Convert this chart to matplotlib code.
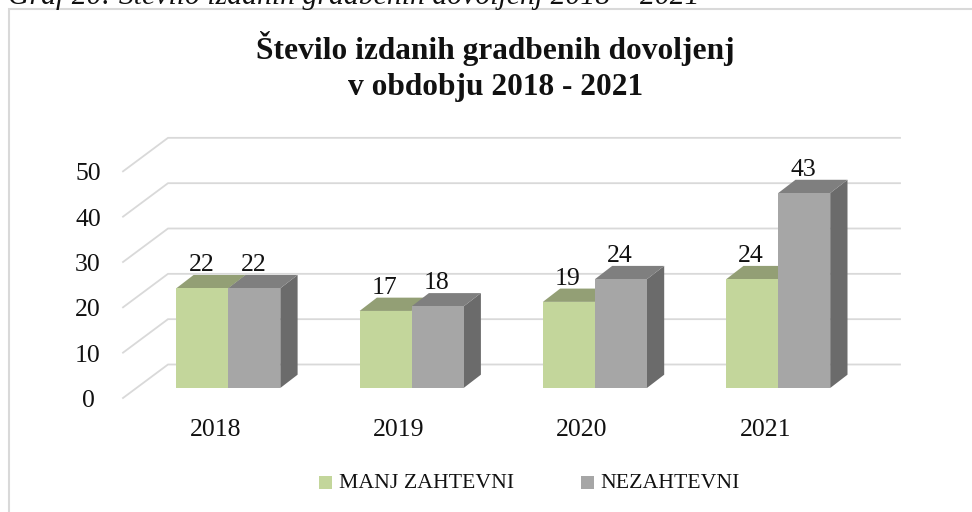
import matplotlib
matplotlib.use("Agg")
import matplotlib.pyplot as plt
from matplotlib.patches import Polygon, Rectangle

years = ["2018", "2019", "2020", "2021"]
manj = [22, 17, 19, 24]
nez = [22, 18, 24, 43]
yticks = [0, 10, 20, 30, 40, 50]
series_names = ["MANJ ZAHTEVNI", "NEZAHTEVNI"]
caption = "Graf 20: Število izdanih gradbenih dovoljenj 2018 – 2021"
title = "Število izdanih gradbenih dovoljenj\nv obdobju 2018 - 2021"

W, H = 972, 512
FONT = "Liberation Serif"
INK = "#111111"
fig = plt.figure(figsize=(W / 100, H / 100), dpi=100, facecolor="white")

bg = fig.add_axes([0, 0, 1, 1], zorder=0)
bg.set_xlim(0, W); bg.set_ylim(H, 0); bg.axis("off")
bg.plot([9, 9, W], [H, 9, 9], color="#d9d9d9", lw=1.5, solid_joinstyle="miter")
bg.text(8, 4, caption, fontsize=21.4, style="italic", family=FONT, ha="left", va="baseline", color=INK)

L, R, B, T = 123, 900, 398, 137
px_cat = 183.3
px_val = 4.533
x0 = 228.3
bar_inset = 10 / px_val
ax = fig.add_axes([L / W, 1 - B / H, (R - L) / W, (B - T) / H], zorder=1)
ax.set_xlim((L - x0) / px_cat, (R - x0) / px_cat)
ax.set_ylim(-bar_inset, (388 - T) / px_val)
ax.axis("off")

gdx, gdy = 45 / px_cat, 23.5 / px_val
xl, xr = ax.get_xlim()
for v in yticks:
    ax.plot([xl, xl + gdx, xr], [v - bar_inset, v + gdy, v + gdy], color="#d9d9d9", lw=1.3,
            zorder=1, clip_on=False, solid_joinstyle="miter")
    ax.annotate(str(v), (xl, v - bar_inset), xytext=(-35, -3), textcoords="offset pixels",
                ha="center", va="center", fontsize=18.5, family=FONT, color=INK)

w = 52 / px_cat
dx, dy = 17.3 / px_cat, 13.3 / px_val
cols = [("#c3d69b", "#939f75", "#939f75"), ("#a6a6a6", "#7f7f7f", "#6b6b6b")]

def bar3d(x, v, face, top, side, z):
    ax.add_patch(Polygon([(x + w, 0), (x + w + dx, dy), (x + w + dx, v + dy), (x + w, v)], fc=side, ec="none", zorder=z))
    ax.add_patch(Polygon([(x, v), (x + dx, v + dy), (x + w + dx, v + dy), (x + w, v)], fc=top, ec="none", zorder=z))
    ax.bar(x, v, width=w, align="edge", color=face, zorder=z + 0.1)

for i, (a, b) in enumerate(zip(manj, nez)):
    bar3d(i - w, a, *cols[0], 2 + i)
    bar3d(i, b, *cols[1], 2.5 + i)
    for x, v in ((i - w / 2, a), (i + w / 2, b)):
        ax.annotate(str(v), (x, v + dy), xytext=(-1, 10), textcoords="offset pixels",
                    ha="center", va="center", fontsize=18.5, family=FONT, color=INK, zorder=20)
    ax.annotate(years[i], (i, 0), xytext=(-13, -42), textcoords="offset pixels", ha="center", va="center",
                fontsize=18.5, family=FONT, color=INK)

for xp, c, name in ((319, cols[0][0], series_names[0]), (581, cols[1][0], series_names[1])):
    bg.add_patch(Rectangle((xp, 476), 13, 13, fc=c, ec="none"))
    bg.text(xp + 19.5, 483, name, fontsize=15.7, family=FONT, ha="left", va="center", color=INK)

bg.text(495.5, 66.5, title, fontsize=22.6, fontweight="bold", family=FONT, ha="center", va="center",
        color=INK, linespacing=1.33)

fig.savefig("out.png", dpi=100)
